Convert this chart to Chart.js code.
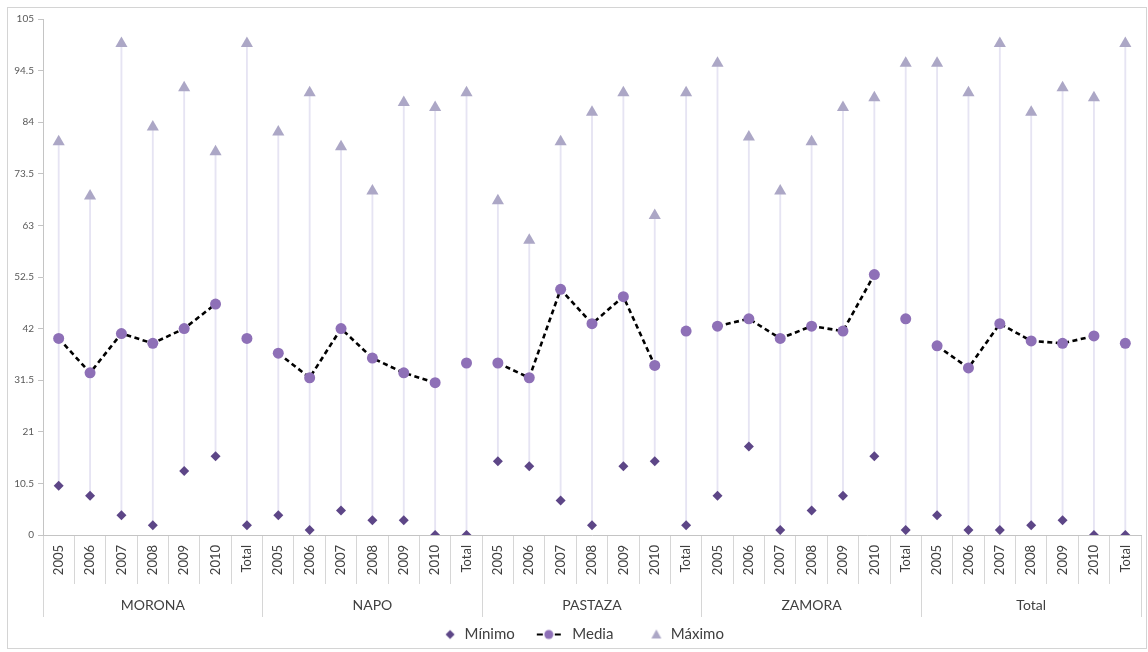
<!DOCTYPE html>
<html>
<head>
<meta charset="utf-8">
<script src="https://cdn.jsdelivr.net/npm/chart.js"></script>
<style>
  html, body { margin: 0; padding: 0; background: #fff; }
  .wrap { position: relative; width: 1148px; height: 652px; }
  .frame {
    position: absolute; left: 7px; top: 7px; width: 1138px; height: 640px;
    border: 1px solid #d4d4d4; pointer-events: none;
  }
</style>
</head>
<body>
<div class="wrap">
  <canvas id="chart" width="1148" height="652"></canvas>
  <div class="frame"></div>
</div>
<script>
// provinces and years
const groups = ['MORONA', 'NAPO', 'PASTAZA', 'ZAMORA', 'Total'];
const years = ['2005', '2006', '2007', '2008', '2009', '2010', 'Total'];

// values, 7 per group
const minimo = [10, 8, 4, 2, 13, 16, 2,
                4, 1, 5, 3, 3, 0, 0,
                15, 14, 7, 2, 14, 15, 2,
                8, 18, 1, 5, 8, 16, 1,
                4, 1, 1, 2, 3, 0, 0];
const media = [40, 33, 41, 39, 42, 47, 40,
               37, 32, 42, 36, 33, 31, 35,
               35, 32, 50, 43, 48.5, 34.5, 41.5,
               42.5, 44, 40, 42.5, 41.5, 53, 44,
               38.5, 34, 43, 39.5, 39, 40.5, 39];
const maximo = [80, 69, 100, 83, 91, 78, 100,
                82, 90, 79, 70, 88, 87, 90,
                68, 60, 80, 86, 90, 65, 90,
                96, 81, 70, 80, 87, 89, 96,
                96, 90, 100, 86, 91, 89, 100];

const yTicks = { min: 0, max: 105, step: 10.5 };

const labels = groups.flatMap(() => years);

const colMin = '#5d4687';
const colMedia = '#8e70b7';
const colMax = '#aca7c6';
const colRange = '#e6e4f3';
const FONT = 'Lato, "Open Sans", sans-serif';

// legend icons
function makeIcon(draw) {
  const c = document.createElement('canvas');
  c.width = 40; c.height = 14;
  const g = c.getContext('2d');
  draw(g);
  return c;
}
const iconMin = makeIcon(g => {
  g.fillStyle = colMin;
  g.beginPath();
  g.moveTo(33, 2.5); g.lineTo(37.5, 7); g.lineTo(33, 11.5); g.lineTo(28.5, 7);
  g.closePath(); g.fill();
});
const iconMedia = makeIcon(g => {
  g.strokeStyle = '#000'; g.lineWidth = 2.2;
  g.beginPath(); g.moveTo(12, 7); g.lineTo(18, 7); g.moveTo(30, 7); g.lineTo(36, 7); g.stroke();
  g.fillStyle = colMedia;
  g.beginPath(); g.arc(24, 7, 4.5, 0, Math.PI * 2); g.fill();
});
const iconMax = makeIcon(g => {
  g.fillStyle = colMax;
  g.beginPath();
  g.moveTo(33, 2); g.lineTo(38, 11); g.lineTo(28, 11);
  g.closePath(); g.fill();
});
const icons = { 'Mínimo': iconMin, 'Media': iconMedia, 'Máximo': iconMax };

const isTotal = i => labels[i] === 'Total';

new Chart(document.getElementById('chart'), {
  data: {
    labels: labels,
    datasets: [
      {
        type: 'bar',
        label: 'rango',
        data: minimo.map((v, i) => [v, maximo[i]]),
        backgroundColor: colRange,
        barThickness: 1.2,
        order: 4
      },
      {
        type: 'line',
        label: 'Mínimo',
        data: minimo,
        showLine: false,
        pointStyle: 'rectRot',
        pointRadius: 5,
        pointHoverRadius: 5,
        pointBorderWidth: 0,
        backgroundColor: colMin,
        borderColor: colMin,
        order: 1
      },
      {
        type: 'line',
        label: 'Media',
        data: media,
        borderColor: '#000',
        borderWidth: 2.6,
        borderDash: [5, 3.5],
        pointStyle: 'circle',
        pointRadius: 5.5,
        pointHoverRadius: 5.5,
        pointBorderWidth: 0,
        pointBackgroundColor: colMedia,
        pointBorderColor: colMedia,
        backgroundColor: colMedia,
        segment: {
          borderColor: ctx => (isTotal(ctx.p0DataIndex) || isTotal(ctx.p1DataIndex)) ? 'transparent' : '#000'
        },
        order: 2
      },
      {
        type: 'line',
        label: 'Máximo',
        data: maximo,
        showLine: false,
        pointStyle: 'triangle',
        pointRadius: 7,
        pointHoverRadius: 7,
        pointBorderWidth: 0,
        backgroundColor: colMax,
        borderColor: colMax,
        order: 3
      }
    ]
  },
  options: {
    responsive: false,
    animation: false,
    layout: { padding: { left: 0, top: 19, right: 7, bottom: 0 } },
    scales: {
      x: {
        type: 'category',
        offset: true,
        grid: { display: true, offset: true, drawOnChartArea: false, tickLength: 49, color: '#d6d6d6' },
        border: { color: '#c4c4c4' },
        ticks: {
          autoSkip: false, minRotation: 90, maxRotation: 90, padding: -39,
          color: '#404040', font: { family: FONT, size: 13 }
        },
        afterFit: s => { s.height = 49; }
      },
      xg: {
        type: 'category',
        labels: groups,
        position: 'bottom',
        display: true,
        offset: true,
        grid: { display: true, offset: true, drawOnChartArea: false, tickLength: 33, color: '#d6d6d6' },
        border: { display: false },
        ticks: { padding: -20, color: '#404040', font: { family: FONT, size: 14 } },
        afterFit: s => { s.height = 33; }
      },
      y: {
        min: yTicks.min,
        max: yTicks.max,
        ticks: { stepSize: yTicks.step, color: '#595959', padding: 4, font: { family: FONT, size: 10 } },
        grid: { display: true, drawOnChartArea: false, tickLength: 5, color: '#c4c4c4' },
        border: { color: '#c4c4c4' },
        afterFit: s => { s.width = 43; }
      }
    },
    plugins: {
      tooltip: { enabled: false },
      legend: {
        position: 'bottom',
        labels: {
          usePointStyle: true,
          pointStyleWidth: 40,
          padding: 10,
          color: '#404040',
          font: { family: FONT, size: 15 },
          filter: item => item.text !== 'rango',
          generateLabels: chart => {
            const items = Chart.defaults.plugins.legend.labels.generateLabels(chart);
            items.forEach(it => { if (icons[it.text]) it.pointStyle = icons[it.text]; });
            return items;
          }
        }
      }
    }
  }
});
</script>
</body>
</html>
